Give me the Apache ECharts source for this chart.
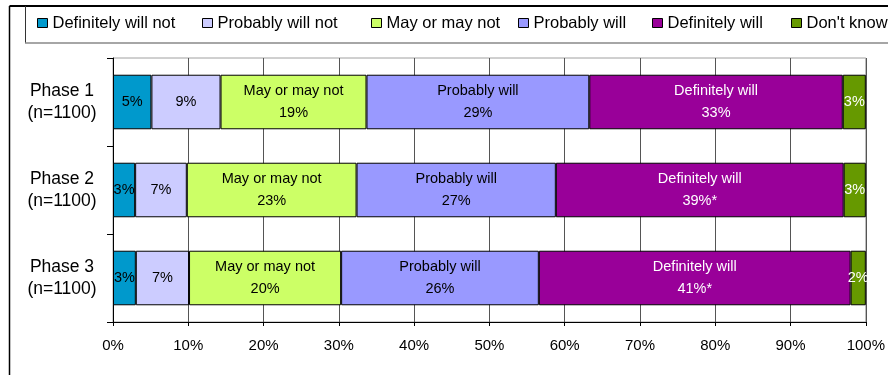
<!DOCTYPE html>
<html>
<head>
<meta charset="utf-8">
<script src="https://cdn.jsdelivr.net/npm/echarts@6/dist/echarts.min.js"></script>
<style>
  html, body { margin: 0; padding: 0; background: #fff; }
  #chart { width: 888px; height: 375px; }
</style>
</head>
<body>
<div id="chart"></div>
<script>
// Survey phases and their sample sizes
const phases = ['Phase 1', 'Phase 2', 'Phase 3'];
const sampleSizes = [1100, 1100, 1100];

// Response categories (stack order, left to right)
const responseNames = ['Definitely will not', 'Probably will not', 'May or may not', 'Probably will', 'Definitely will', "Don't know"];
const responseColors = ['#0099CC', '#CCCCFF', '#CCFF66', '#9999FF', '#990099', '#669900'];

// Percent of respondents per phase
const definitelyWillNot = [5, 3, 3];
const probablyWillNot = [9, 7, 7];
const mayOrMayNot = [19, 23, 20];
const probablyWill = [29, 27, 26];
const definitelyWill = [33, 39, 41];
const dontKnow = [3, 3, 2];

// Significance markers shown next to the "Definitely will" values
const definitelyWillFlags = ['', '*', '*'];

// Percent tick labels on the value axis
const tickLabels = ['0%', '10%', '20%', '30%', '40%', '50%', '60%', '70%', '80%', '90%', '100%'];

const seriesValues = [definitelyWillNot, probablyWillNot, mayOrMayNot, probablyWill, definitelyWill, dontKnow];
// Categories whose in-bar label also carries the response name
const namedLabel = [false, false, true, true, true, false];
const whiteText = [false, false, false, false, true, true];
const flags = [null, null, null, null, definitelyWillFlags, null];

// Each bar is a 100% stack: segments are the shares of that phase's total
const totals = phases.map((_, i) => seriesValues.reduce((s, arr) => s + arr[i], 0));

const FONT = '"Liberation Sans", Arial, sans-serif';

const series = seriesValues.map((vals, k) => ({
  name: responseNames[k],
  type: 'bar',
  stack: 'total',
  barWidth: '62%',
  data: vals.map((v, i) => v / totals[i] * 100),
  itemStyle: { color: responseColors[k], borderColor: '#000', borderWidth: 1 },
  label: {
    show: true,
    position: 'inside',
    fontFamily: FONT,
    fontSize: 14.5,
    lineHeight: 22,
    color: whiteText[k] ? '#fff' : '#000',
    formatter: p => {
      const raw = vals[p.dataIndex] + '%' + (flags[k] ? flags[k][p.dataIndex] : '');
      return namedLabel[k] ? responseNames[k] + '\n' + raw : raw;
    }
  },
  labelLayout: { hideOverlap: false },
  emphasis: { disabled: true }
}));

// Legend entries placed along the top strip
const legendLeft = [37, 202, 371, 518, 652, 791];
const legends = responseNames.map((name, k) => ({
  data: [name],
  left: legendLeft[k],
  top: 14,
  padding: 0,
  itemWidth: 10,
  itemHeight: 9,
  itemGap: 0,
  icon: 'rect',
  itemStyle: { borderColor: '#000', borderWidth: 1 },
  textStyle: { fontFamily: FONT, fontSize: 16.5, color: '#000', lineHeight: 18 },
  selectedMode: false
}));

const chart = echarts.init(document.getElementById('chart'), null, { renderer: 'canvas' });
chart.setOption({
  animation: false,
  backgroundColor: '#fff',
  legend: legends,
  grid: {
    left: 113, right: 20, top: 58, bottom: 53,
    show: true, borderColor: '#a0a0a0', borderWidth: 1, backgroundColor: 'transparent'
  },
  xAxis: {
    type: 'value',
    min: 0, max: 100, interval: 10,
    axisLine: { show: true, lineStyle: { color: '#000', width: 1 } },
    axisTick: { show: true, length: 4, lineStyle: { color: '#000' } },
    splitLine: { show: true, lineStyle: { color: '#555', width: 1 } },
    axisLabel: {
      fontFamily: FONT, fontSize: 15, color: '#000', margin: 16,
      formatter: v => tickLabels[Math.round(v / 10)]
    }
  },
  yAxis: {
    type: 'category',
    inverse: true,
    data: phases,
    axisLine: { show: true, lineStyle: { color: '#000', width: 1 } },
    axisTick: { show: true, length: 6, lineStyle: { color: '#000' } },
    axisLabel: {
      fontFamily: FONT, fontSize: 17.5, lineHeight: 22, color: '#000',
      align: 'center', margin: 51,
      formatter: (v, i) => v + '\n(n=' + sampleSizes[i] + ')'
    }
  },
  graphic: [
    // outer frame: top and left edges
    { type: 'line', shape: { x1: 9.5, y1: 6, x2: 888, y2: 6 }, style: { stroke: '#000', lineWidth: 2 }, silent: true },
    { type: 'line', shape: { x1: 9.5, y1: 6, x2: 9.5, y2: 375 }, style: { stroke: '#000', lineWidth: 1.5 }, silent: true },
    // legend box
    { type: 'line', shape: { x1: 25.5, y1: 6, x2: 25.5, y2: 43 }, style: { stroke: '#333', lineWidth: 1 }, silent: true },
    { type: 'line', shape: { x1: 25, y1: 43, x2: 888, y2: 43 }, style: { stroke: '#888', lineWidth: 1.5 }, silent: true }
  ],
  series: series
});
</script>
</body>
</html>
